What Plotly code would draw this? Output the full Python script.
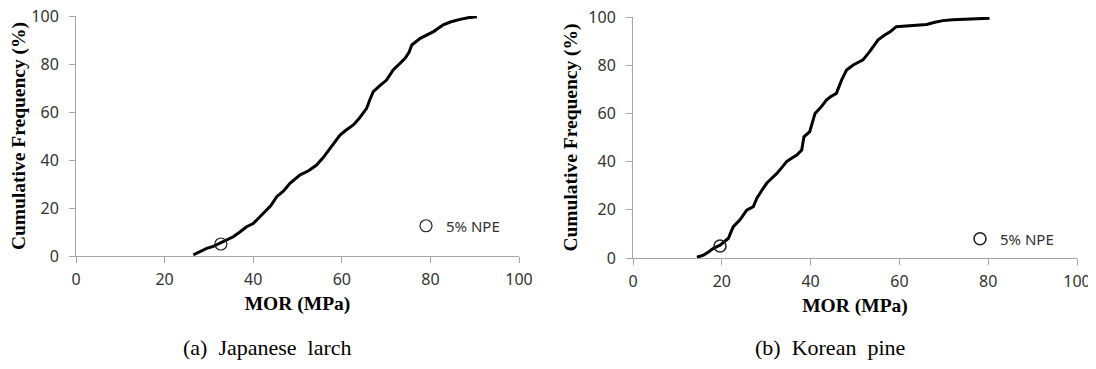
import plotly.graph_objects as go

# ---- data ----
larch_mor = [26.5, 28.0, 29.5, 31.0, 32.5, 34.0, 35.5, 37.0, 38.5, 40.0, 41.5, 43.0, 44.0, 45.3,
             46.8, 48.3, 49.5, 50.6, 52.5, 54.3, 55.8, 57.3, 58.5, 59.6, 61.0, 62.6, 64.0, 65.6,
             66.3, 67.1, 68.6, 70.1, 71.6, 73.0, 74.3, 75.2, 75.8, 77.7, 79.0, 80.7, 82.9, 84.5,
             86.7, 88.5, 90.5]
larch_cf = [0.5, 2.0, 3.2, 4.0, 5.3, 6.5, 8.0, 10.0, 12.2, 13.5, 16.4, 19.0, 21.0, 24.7,
            27.0, 30.3, 32.0, 33.8, 35.5, 37.9, 41.0, 44.9, 47.5, 50.4, 52.5, 54.6, 57.5, 61.5,
            65.0, 68.5, 71.0, 73.3, 77.5, 80.0, 82.4, 85.0, 87.9, 90.7, 92.0, 93.5, 96.3, 97.5,
            98.6, 99.3, 99.7]
larch_npe_mor = [32.7]
larch_npe_cf = [5.0]

pine_mor = [14.4, 15.9, 17.0, 18.1, 19.6, 20.5, 21.5, 22.0, 22.6, 24.1, 25.6, 27.1, 27.9, 29.0,
            30.1, 31.2, 32.4, 33.5, 34.6, 35.8, 36.9, 38.0, 38.5, 39.8, 41.0, 42.3, 43.6, 44.5,
            45.8, 47.0, 48.1, 49.6, 51.8, 53.3, 54.2, 55.2, 56.7, 58.0, 59.3, 62.0, 66.1, 68.0,
            69.8, 72.0, 75.8, 80.3]
pine_cf = [0.3, 1.2, 2.5, 4.0, 5.3, 6.5, 8.2, 10.5, 13.0, 15.8, 19.9, 21.3, 24.8, 28.0,
           31.0, 33.0, 35.1, 37.5, 40.0, 41.5, 42.7, 44.8, 50.3, 52.4, 60.0, 62.5, 65.6, 66.9,
           68.3, 73.9, 78.0, 80.1, 82.2, 85.6, 88.0, 90.5, 92.5, 94.0, 96.0, 96.4, 96.9, 97.8,
           98.5, 98.9, 99.1, 99.5]
pine_npe_mor = [19.6]
pine_npe_cf = [5.0]

tick_vals = [0, 20, 40, 60, 80, 100]
x_title = "MOR (MPa)"
y_title = "Cumulative Frequency (%)"
captions = ["(a)\u00a0 Japanese\u00a0 larch", "(b)\u00a0 Korean\u00a0 pine"]
npe_name = "5% NPE"

# the page body has an 8px margin, so the figure is drawn 8px in from the window corner;
# keep the page no taller than the window so no scrollbar appears
OFF = 8
W, H = 1096 - OFF, 369 - 2 * OFF
fig = go.Figure()

# curves
fig.add_trace(go.Scatter(x=larch_mor, y=larch_cf, mode="lines", xaxis="x", yaxis="y",
                         line=dict(color="black", width=3), showlegend=False))
fig.add_trace(go.Scatter(x=larch_npe_mor, y=larch_npe_cf, mode="markers", xaxis="x", yaxis="y",
                         name=npe_name, legend="legend",
                         marker=dict(symbol="circle-open", size=12, color="#222",
                                     line=dict(width=1.2, color="#222"))))
fig.add_trace(go.Scatter(x=pine_mor, y=pine_cf, mode="lines", xaxis="x2", yaxis="y2",
                         line=dict(color="black", width=3), showlegend=False))
fig.add_trace(go.Scatter(x=pine_npe_mor, y=pine_npe_cf, mode="markers", xaxis="x2", yaxis="y2",
                         name=npe_name, legend="legend2",
                         marker=dict(symbol="circle-open", size=12, color="#222",
                                     line=dict(width=1.6, color="#222"))))

tick_font = dict(family="Noto Sans, Open Sans, sans-serif", size=16, color="#333")
legend_font = dict(family="Noto Sans, Open Sans, sans-serif", size=15, color="#333")
title_font = dict(family="Liberation Serif, Times New Roman, serif", size=19.5, color="black")
caption_font = dict(family="Liberation Serif, Times New Roman, serif", size=22, color="black")
axis_common = dict(range=[0, 100], tickvals=tick_vals, showgrid=False, zeroline=False,
                   showline=True, linecolor="#a6a6a6", linewidth=1, automargin=False,
                   ticks="outside", ticklen=6, tickcolor="#a6a6a6", tickwidth=1,
                   tickfont=tick_font, ticklabeloverflow="allow")


def px(sx):
    return (sx - OFF) / W


def py(sy):
    return 1 - (sy - OFF) / H


fig.update_layout(
    width=W, height=H,
    margin=dict(l=0, r=0, t=0, b=0),
    paper_bgcolor="white", plot_bgcolor="white",
    xaxis=dict(domain=[px(76), px(519)], anchor="y",
               title=dict(text="<b>" + x_title + "</b>", font=title_font, standoff=7),
               ticklabelstandoff=3, **axis_common),
    yaxis=dict(domain=[py(256), py(16)], anchor="x",
               title=dict(text="<b>" + y_title + "</b>", font=title_font, standoff=5),
               ticklabelstandoff=7, **axis_common),
    xaxis2=dict(domain=[px(633), px(1077)], anchor="y2",
                title=dict(text="<b>" + x_title + "</b>", font=title_font, standoff=7),
                ticklabelstandoff=3, **axis_common),
    yaxis2=dict(domain=[py(258), py(17)], anchor="x2",
                title=dict(text="<b>" + y_title + "</b>", font=title_font, standoff=5),
                ticklabelstandoff=7, **axis_common),
    legend=dict(x=px(406), y=py(226), xanchor="left", yanchor="middle",
                bgcolor="rgba(0,0,0,0)", font=legend_font, itemwidth=30),
    legend2=dict(x=px(960), y=py(239), xanchor="left", yanchor="middle",
                 bgcolor="rgba(0,0,0,0)", font=legend_font, itemwidth=30),
    annotations=[
        dict(text=captions[0], x=px(267), y=py(347), xref="paper", yref="paper",
             showarrow=False, xanchor="center", yanchor="middle", font=caption_font),
        dict(text=captions[1], x=px(830), y=py(347), xref="paper", yref="paper",
             showarrow=False, xanchor="center", yanchor="middle", font=caption_font),
    ],
)

fig.write_html("out.html")
